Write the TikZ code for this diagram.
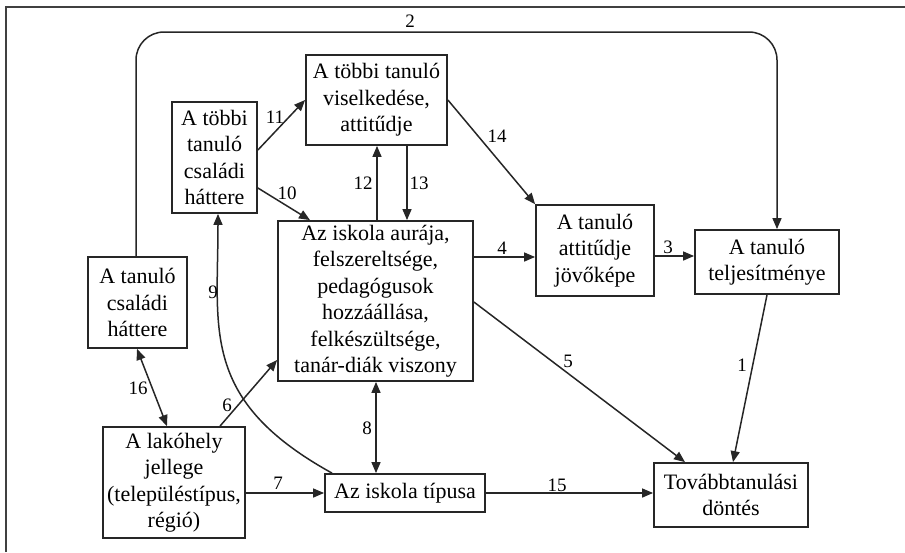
\documentclass[tikz,border=0pt]{standalone}
\usepackage{fontspec}
\setmainfont{Liberation Serif}
\usetikzlibrary{arrows.meta}
\begin{document}
\begin{tikzpicture}[x=1pt,y=-1pt,
  box/.style={draw=black!85, line width=1.8pt, inner sep=0pt, align=center,
    font=\fontsize{22}{26.5}\selectfont},
  conn/.style={draw=black!85, line width=1.5pt, -{Triangle[length=11pt,width=9pt]}},
  dconn/.style={draw=black!85, line width=1.5pt, {Triangle[length=11pt,width=9pt]}-{Triangle[length=11pt,width=9pt]}},
  lbl/.style={font=\fontsize{19}{19}\selectfont, inner sep=0pt}]
\useasboundingbox (0,0) rectangle (905,552);
\draw[line width=2pt, black!75] (6,552) -- (6,7) -- (905,7);

% boxes
\node[box, minimum width=141pt, minimum height=90pt] (vis) at (376.5,100)
  {A többi tanuló\\viselkedése,\\attitűdje};
\node[box, minimum width=85pt, minimum height=111pt] (tcs) at (214.5,157.5)
  {A többi\\tanuló\\családi\\háttere};
\node[box, minimum width=195pt, minimum height=160pt] (aura) at (375.5,301)
  {Az iskola aurája,\\felszereltsége,\\pedagógusok\\hozzáállása,\\felkészültsége,\\tanár-diák viszony};
\node[box, minimum width=99pt, minimum height=91pt] (tch) at (137.5,302.5)
  {A tanuló\\családi\\háttere};
\node[box, minimum width=142pt, minimum height=111pt] (lak) at (174,482.5)
  {A lakóhely\\jellege\\(településtípus,\\régió)};
\node[box, minimum width=160pt, minimum height=38pt] (tip) at (405,493)
  {Az iskola típusa};
\node[box, minimum width=118pt, minimum height=91pt] (att) at (595,250.5)
  {A tanuló\\attitűdje\\jövőképe};
\node[box, minimum width=144pt, minimum height=64pt] (tel) at (767,262)
  {A tanuló\\teljesítménye};
\node[box, minimum width=154pt, minimum height=64pt] (dont) at (731,495)
  {Továbbtanulási\\döntés};

% connectors
\coordinate (top2) at (410,32);
\draw[conn, rounded corners=28pt] ([xshift=-1.5pt]tch.north) |- (top2) -| ([xshift=10pt]tel.north);
\draw[conn] ([yshift=7.5pt]tcs.east) -- (vis.west);
\draw[conn] ([yshift=-30.5pt]tcs.east) -- ([xshift=-65.5pt]aura.north);
\draw[conn] ([xshift=1.5pt]aura.north) -- ([xshift=1.5pt]aura.north |- vis.south);
\draw[conn] ([xshift=30.5pt]vis.south) -- ([xshift=30.5pt]vis.south |- aura.north);
\draw[conn] (vis.east) -- (att.north west);
\draw[conn] ([yshift=-6.5pt]att.west -| aura.east) -- ([yshift=-6.5pt]att.west);
\draw[conn] ([yshift=-5.5pt]att.east) -- ([yshift=-5.5pt]att.east -| tel.west);
\draw[conn] ([yshift=-1pt]aura.east) -- ([xshift=-46pt]dont.north);
\draw[conn] (tel.south) -- ([xshift=2pt]dont.north);
\draw[conn] (tip.east) -- (tip.east -| dont.west);
\draw[conn] (tip.west -| lak.east) -- (tip.west);
\draw[dconn] ([xshift=0.5pt]aura.south) -- ([xshift=0.5pt]aura.south |- tip.north);
\draw[conn] ([xshift=46pt]lak.north) -- ([yshift=-59pt]aura.west);
\draw[dconn] ([xshift=-0.5pt]tch.south) -- ([xshift=-7pt]lak.north);
\draw[conn] ([xshift=-73pt]tip.north) .. controls (200,400) and (218,330) .. ([xshift=3.5pt]tcs.south);

% labels
\node[lbl] (l2) at (410,21) {2};
\node[lbl] (l11) at (275,117) {11};
\node[lbl] (l10) at (287,193) {10};
\node[lbl] (l12) at (363,183) {12};
\node[lbl] (l13) at (419,183) {13};
\node[lbl] (l14) at (497,136) {14};
\node[lbl] (l4) at (502,248) {4};
\node[lbl] (l3) at (668,247) {3};
\node[lbl] (l5) at (568,361) {5};
\node[lbl] (l1) at (742,365) {1};
\node[lbl] (l15) at (557,485) {15};
\node[lbl] (l7) at (278,483) {7};
\node[lbl] (l8) at (367,428) {8};
\node[lbl] (l6) at (227,405) {6};
\node[lbl] (l16) at (138,388) {16};
\node[lbl] (l9) at (213,292) {9};
\end{tikzpicture}
\end{document}
